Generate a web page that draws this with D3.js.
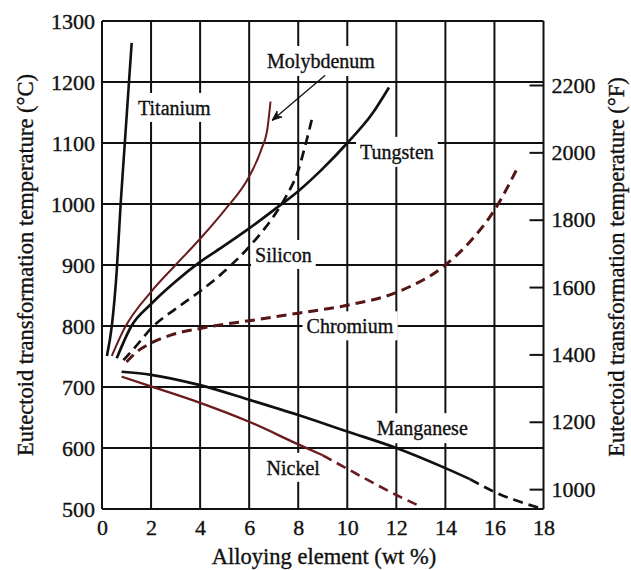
<!DOCTYPE html>
<html><head><meta charset="utf-8">
<script src="https://cdn.jsdelivr.net/npm/d3@7"></script>
<style>
body{margin:0;background:#fff}
svg{display:block}
text{font-family:"Liberation Serif","Times New Roman",Times,serif;fill:#111;stroke:#111;stroke-width:0.35px}
</style>
</head><body>
<svg id="chart" width="631" height="570"></svg>
<script>
// ---- data ----
const wtTicks = [0, 2, 4, 6, 8, 10, 12, 14, 16, 18];
const celsiusTicks = [500, 600, 700, 800, 900, 1000, 1100, 1200, 1300];
const fahrenheitTicks = [1000, 1200, 1400, 1600, 1800, 2000, 2200];
const xDomain = [0, 18];
const celsiusDomain = [500, 1300];
const fahrenheitDomain = [941, 2390]; // as drawn on the right-hand scale

const titanium   = [[0.2,751],[0.4,800],[0.6,890],[0.76,1000],[0.93,1100],[1.1,1200],[1.21,1264]];
const molybdenum = [[0.4,751],[0.9,795],[2,856],[3,900],[4,943],[5,990],[6,1045],[6.5,1090],[6.75,1125],[6.87,1168]];
const tungsten   = [[0.6,747],[1.2,800],[2,836],[3,873],[4,905],[5,932],[6,960],[7,990],[8,1021],[9,1058],[10,1100],[11,1147],[11.7,1191]];
const silicon    = [[0.87,744],[1.3,763],[2.1,800],[3,828],[4,857],[5,890],[6,930],[7,980],[7.5,1012],[8,1055],[8.3,1098],[8.55,1138]];
const chromium   = [[1.0,741],[1.4,757],[1.9,770],[2.8,785],[4,796],[6.4,811],[8,821],[10,834],[12,855],[14,900],[15,938],[16,990],[17,1064]];
const manganese  = [[0.8,725],[2,720],[4,703],[6,679],[8,654],[10,627],[12,600],[14,567],[15,549],[16,528],[17.9,501]];
const nickel     = [[0.8,717],[2,701],[4,674],[6,643],[8,606],[9,588],[10,566],[11,544],[12,523],[13.05,503]];

const manganeseDashFrom = 15;
const nickelDashFrom = 9;

const labelNames = ["Titanium","Molybdenum","Tungsten","Silicon","Chromium","Manganese","Nickel"];
const labelAnchors = [[1.47,1146],[6.73,1223],[10.52,1074],[6.24,905],[8.34,788],[11.2,621],[6.71,556]];
const arrowFrom = [9.1, 1211];
const arrowTo = [6.93, 1137];

// ---- layout ----
const W = 631, H = 570;
const margin = {top: 21, right: 87.5, bottom: 61, left: 102};
const svg = d3.select("#chart");
const x = d3.scaleLinear().domain(xDomain).range([margin.left, W - margin.right]);
const y = d3.scaleLinear().domain(celsiusDomain).range([H - margin.bottom, margin.top]);
const yF = d3.scaleLinear().domain(fahrenheitDomain).range([H - margin.bottom, margin.top]);

const RED = "#6a1b1b", DARKRED = "#551616", INK = "#111";

// grid
const grid = svg.append("g");
grid.selectAll("line.v").data(wtTicks).join("line")
  .attr("x1", d => x(d)).attr("x2", d => x(d))
  .attr("y1", y(celsiusDomain[0])).attr("y2", y(celsiusDomain[1]))
  .attr("stroke", INK).attr("stroke-width", 2);
grid.selectAll("line.h").data(celsiusTicks).join("line")
  .attr("y1", d => y(d)).attr("y2", d => y(d))
  .attr("x1", x(xDomain[0])).attr("x2", x(xDomain[1]))
  .attr("stroke", INK).attr("stroke-width", 2);

// axes (labels only, grid drawn above)
const fontTick = "22px";
const xAxis = svg.append("g").attr("transform", `translate(0,${y(celsiusDomain[0])})`)
  .call(d3.axisBottom(x).tickValues(wtTicks).tickSize(0).tickPadding(10).tickFormat(d3.format("d")));
const yAxis = svg.append("g").attr("transform", `translate(${x(xDomain[0])},0)`)
  .call(d3.axisLeft(y).tickValues(celsiusTicks).tickSize(0).tickPadding(7).tickFormat(d3.format("d")));
const yAxisR = svg.append("g").attr("transform", `translate(${x(xDomain[1])},0)`)
  .call(d3.axisRight(yF).tickValues(fahrenheitTicks).tickSize(-14).tickPadding(8).tickFormat(d3.format("d")));
[xAxis, yAxis, yAxisR].forEach(a => {
  a.select(".domain").remove();
  a.selectAll("text").attr("font-size", fontTick).attr("font-family", "Liberation Serif, serif")
    .attr("fill", INK).attr("stroke", INK).attr("stroke-width", 0.35);
});
yAxisR.selectAll(".tick line").attr("stroke", INK).attr("stroke-width", 2);
yAxisR.selectAll(".tick text").attr("x", 8);

// axis titles
svg.append("text").attr("transform", `translate(33,${(margin.top + H - margin.bottom)/2}) rotate(-90)`)
  .attr("text-anchor", "middle").attr("font-size", "22.5px").text("Eutectoid transformation temperature (°C)");
svg.append("text").attr("transform", `translate(624,${(margin.top + H - margin.bottom)/2 + 2}) rotate(-90)`)
  .attr("text-anchor", "middle").attr("font-size", "22.5px").text("Eutectoid transformation temperature (°F)");
svg.append("text").attr("x", 324).attr("y", 564)
  .attr("text-anchor", "middle").attr("font-size", "22.5px").text("Alloying element (wt %)");

// curve labels with white backgrounds breaking the grid
const labG = svg.append("g");
labelNames.forEach((name, i) => {
  const g = labG.append("g");
  const t = g.append("text").attr("x", x(labelAnchors[i][0])).attr("y", y(labelAnchors[i][1]))
    .attr("font-size", "20px").text(name);
  const b = t.node().getBBox();
  g.insert("rect", "text").attr("x", b.x - 4).attr("y", b.y - 4).attr("width", b.width + 8).attr("height", b.height + 7)
    .attr("fill", "#fff").attr("stroke", "none");
});

// curves
const line = d3.line().x(d => x(d[0])).y(d => y(d[1])).curve(d3.curveMonotoneX);
const curves = svg.append("g").attr("fill", "none").attr("stroke-linecap", "butt");
function draw(data, color, width, dash) {
  curves.append("path").datum(data).attr("d", line)
    .attr("stroke", color).attr("stroke-width", width).attr("stroke-dasharray", dash || null);
}
draw(titanium, INK, 2.6);
draw(molybdenum, RED, 2);
draw(tungsten, INK, 2.7);
draw(silicon, INK, 2.7, "10,6");
draw(chromium, DARKRED, 3, "10,6");
draw(manganese.filter(d => d[0] <= manganeseDashFrom), INK, 2.7);
draw(manganese.filter(d => d[0] >= manganeseDashFrom), INK, 2.7, "10,6");
draw(nickel.filter(d => d[0] <= nickelDashFrom), RED, 2.3);
draw(nickel.filter(d => d[0] >= nickelDashFrom), RED, 2.6, "10,6");

// molybdenum pointer
svg.append("defs").append("marker").attr("id", "arrow").attr("viewBox", "0 0 10 10")
  .attr("refX", 10).attr("refY", 5).attr("markerWidth", 10).attr("markerHeight", 10)
  .attr("markerUnits", "userSpaceOnUse").attr("orient", "auto")
  .append("path").attr("d", "M0,1 L10,5 L0,9 L3,5 Z").attr("fill", INK).attr("stroke", INK).attr("stroke-width", 0.8);
svg.append("line").attr("x1", x(arrowFrom[0])).attr("y1", y(arrowFrom[1]))
  .attr("x2", x(arrowTo[0])).attr("y2", y(arrowTo[1]))
  .attr("stroke", INK).attr("stroke-width", 1.3).attr("marker-end", "url(#arrow)");
</script>
</body></html>
